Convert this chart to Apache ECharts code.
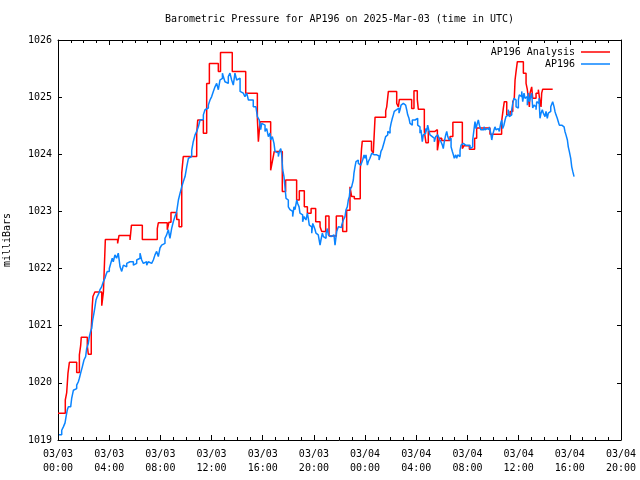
<!DOCTYPE html>
<html>
<head>
<meta charset="utf-8">
<script src="https://cdn.jsdelivr.net/npm/echarts@6/dist/echarts.min.js"></script>
<style>
html,body{margin:0;padding:0;background:#fff;}
#chart{width:640px;height:480px;}
</style>
</head>
<body>
<div id="chart"></div>
<script>
// Hours since 2025-03-03 00:00 UTC
var titleText = "Barometric Pressure for AP196 on 2025-Mar-03 (time in UTC)";
var yAxisName = "milliBars";
var seriesNames = ["AP196 Analysis", "AP196"];
var xTickHours = [0, 4, 8, 12, 16, 20, 24, 28, 32, 36, 40, 44];
var xTickLabels = ["03/03\n00:00","03/03\n04:00","03/03\n08:00","03/03\n12:00","03/03\n16:00","03/03\n20:00",
                   "03/04\n00:00","03/04\n04:00","03/04\n08:00","03/04\n12:00","03/04\n16:00","03/04\n20:00"];

var analysisHours = [0.00,0.57,0.68,0.78,0.89,1.46,1.67,1.77,1.82,2.29,2.37,2.60,2.68,2.73,2.88,3.42,3.55,3.70,4.66,4.77,
  5.63,5.74,6.59,7.76,7.84,8.54,8.67,8.83,9.28,9.46,9.67,9.79,10.84,10.92,11.36,11.62,11.83,12.53,12.70,13.62,
  14.67,15.58,15.66,15.79,16.62,16.75,16.90,17.53,17.79,18.65,18.86,19.25,19.49,19.78,20.14,20.48,20.61,20.92,21.18,21.75,
  22.25,22.56,22.82,22.95,23.16,23.62,23.72,23.78,24.50,24.64,24.78,25.61,25.69,25.82,26.47,26.60,26.68,27.64,27.82,28.08,
  28.16,28.63,28.76,28.94,29.46,29.50,29.65,29.80,29.99,30.64,30.86,31.60,31.73,32.15,32.56,32.72,33.76,34.67,34.80,34.88,
  35.07,35.33,35.54,35.66,35.72,35.80,35.90,36.37,36.58,36.68,36.76,36.84,36.89,37.02,37.10,37.36,37.54,37.67,37.75,37.80,
  37.88,38.66];
var analysisValues = [1019.47,1019.70,1019.83,1020.17,1020.36,1020.18,1020.49,1020.65,1020.80,1020.65,1020.50,1020.93,1021.35,1021.51,1021.59,1021.35,1021.59,1022.51,1022.44,1022.58,
  1022.50,1022.76,1022.51,1022.70,1022.80,1022.68,1022.81,1022.98,1022.86,1022.73,1023.67,1023.96,1024.37,1024.60,1024.37,1025.24,1025.59,1025.45,1025.78,1025.45,
  1025.07,1024.63,1024.22,1024.57,1023.72,1023.87,1024.05,1023.35,1023.55,1023.20,1023.36,1023.08,1022.97,1023.05,1022.82,1022.73,1022.65,1022.92,1022.57,1022.92,
  1022.65,1023.02,1023.43,1023.26,1023.22,1023.72,1024.09,1024.23,1024.07,1024.02,1024.65,1024.76,1024.83,1025.10,1024.89,1024.83,1024.96,1024.80,1025.11,1024.96,
  1024.79,1024.40,1024.20,1024.40,1024.37,1024.43,1024.07,1024.28,1024.24,1024.31,1024.56,1024.10,1024.15,1024.09,1024.28,1024.46,1024.35,1024.57,1024.80,1024.92,
  1024.69,1024.75,1024.92,1024.98,1025.30,1025.45,1025.62,1025.42,1025.24,1025.13,1024.98,1024.83,1025.07,1025.18,1024.98,1025.07,1025.13,1024.92,1024.83,1025.07,
  1025.14,1025.14];

var ap196Hours = [0.08,0.29,0.42,0.55,0.63,0.73,0.81,0.99,1.07,1.20,1.33,1.46,1.59,1.67,1.77,1.90,2.03,2.16,2.24,2.37,
  2.45,2.55,2.63,2.71,2.81,2.89,2.97,3.07,3.20,3.28,3.41,3.54,3.67,3.75,3.85,4.01,4.12,4.24,4.32,4.45,
  4.58,4.71,4.85,4.98,5.11,5.24,5.37,5.50,5.63,5.76,5.89,6.02,6.15,6.28,6.41,6.54,6.67,6.80,6.93,7.06,
  7.19,7.32,7.45,7.58,7.71,7.84,7.97,8.10,8.23,8.36,8.49,8.62,8.75,8.88,9.01,9.14,9.28,9.41,9.54,9.67,
  9.79,9.93,10.06,10.19,10.32,10.45,10.57,10.71,10.84,10.97,11.10,11.23,11.36,11.49,11.62,11.75,11.88,12.01,12.14,12.27,
  12.40,12.53,12.66,12.79,12.85,12.92,13.05,13.18,13.31,13.44,13.57,13.70,13.83,13.96,14.09,14.23,14.36,14.48,14.61,14.75,
  14.88,15.01,15.26,15.47,15.58,15.73,15.84,15.92,16.05,16.18,16.31,16.44,16.57,16.62,16.75,16.88,16.96,17.09,17.22,17.30,
  17.41,17.48,17.56,17.66,17.74,17.82,17.92,18.00,18.13,18.26,18.34,18.44,18.52,18.66,18.73,18.84,18.91,19.05,19.12,19.23,
  19.30,19.38,19.49,19.56,19.64,19.75,19.83,19.91,20.01,20.09,20.16,20.27,20.34,20.48,20.55,20.66,20.74,20.87,20.95,21.05,
  21.13,21.26,21.34,21.47,21.57,21.65,21.73,21.78,21.91,22.04,22.17,22.30,22.43,22.51,22.61,22.69,22.77,22.82,22.95,23.08,
  23.13,23.21,23.29,23.34,23.47,23.55,23.66,23.73,23.81,23.92,23.99,24.07,24.18,24.25,24.38,24.46,24.52,24.59,24.64,24.72,
  24.83,24.91,24.99,25.09,25.17,25.24,25.35,25.43,25.50,25.61,25.69,25.77,25.87,25.95,26.03,26.13,26.21,26.28,26.39,26.47,
  26.55,26.65,26.73,26.81,26.91,26.99,27.07,27.17,27.25,27.33,27.43,27.51,27.59,27.69,27.77,27.90,28.03,28.11,28.21,28.29,
  28.37,28.47,28.55,28.63,28.74,28.82,28.89,29.00,29.07,29.15,29.25,29.33,29.41,29.52,29.60,29.68,29.78,29.86,29.93,30.04,
  30.11,30.19,30.30,30.38,30.46,30.56,30.64,30.72,30.82,30.90,30.97,31.08,31.16,31.24,31.34,31.42,31.50,31.60,31.68,31.75,
  31.86,31.94,32.02,32.12,32.20,32.33,32.41,32.51,32.59,32.67,32.77,32.85,32.93,33.04,33.11,33.19,33.29,33.37,33.45,33.55,
  33.63,33.71,33.82,33.90,33.97,34.08,34.15,34.23,34.34,34.41,34.49,34.60,34.68,34.75,34.85,34.94,35.01,35.12,35.19,35.27,
  35.38,35.46,35.54,35.64,35.72,35.80,35.90,35.98,36.05,36.16,36.24,36.32,36.42,36.50,36.58,36.68,36.76,36.84,36.94,37.02,
  37.10,37.20,37.28,37.36,37.41,37.49,37.59,37.67,37.75,37.85,37.93,38.06,38.14,38.24,38.32,38.40,38.51,38.58,38.66,38.77,
  38.84,38.92,39.02,39.10,39.18,39.29,39.37,39.44,39.55,39.62,39.70,39.81,39.88,39.96,40.07,40.15,40.23,40.33];
var ap196Values = [1019.09,1019.17,1019.23,1019.30,1019.41,1019.53,1019.58,1019.59,1019.73,1019.87,1019.90,1019.96,1020.02,1020.08,1020.17,1020.28,1020.40,1020.46,1020.60,1020.69,
  1020.81,1020.90,1020.95,1021.10,1021.22,1021.33,1021.45,1021.51,1021.57,1021.63,1021.68,1021.77,1021.83,1021.89,1021.95,1022.00,1022.09,1022.18,1022.12,1022.24,
  1022.18,1022.27,1022.03,1021.95,1022.06,1022.03,1022.09,1022.12,1022.09,1022.12,1022.06,1022.09,1022.15,1022.18,1022.27,1022.15,1022.09,1022.12,1022.06,1022.12,
  1022.09,1022.06,1022.15,1022.24,1022.30,1022.21,1022.36,1022.41,1022.44,1022.53,1022.59,1022.68,1022.53,1022.70,1022.82,1022.91,1023.00,1023.20,1023.32,1023.43,
  1023.52,1023.61,1023.78,1023.93,1023.96,1024.07,1024.22,1024.34,1024.40,1024.48,1024.60,1024.61,1024.69,1024.78,1024.81,1024.86,1024.95,1025.01,1025.10,1025.18,
  1025.24,1025.13,1025.30,1025.33,1025.42,1025.36,1025.27,1025.24,1025.36,1025.42,1025.30,1025.21,1025.42,1025.30,1025.33,1025.10,1025.07,1025.10,1025.01,1025.07,
  1024.95,1024.95,1024.83,1024.81,1024.66,1024.60,1024.43,1024.54,1024.51,1024.40,1024.45,1024.31,1024.37,1024.25,1024.31,1024.19,1024.05,1024.02,1023.96,1024.05,
  1024.10,1023.99,1023.73,1023.61,1023.43,1023.23,1023.20,1023.08,1023.03,1023.00,1022.91,1023.08,1023.03,1023.20,1023.14,1023.08,1022.97,1022.94,1022.82,1022.91,
  1022.94,1022.85,1022.97,1022.88,1022.76,1022.73,1022.62,1022.79,1022.73,1022.68,1022.62,1022.59,1022.62,1022.41,1022.50,1022.62,1022.56,1022.53,1022.62,1022.70,
  1022.59,1022.56,1022.53,1022.59,1022.56,1022.41,1022.56,1022.65,1022.73,1022.72,1022.76,1022.85,1022.91,1023.03,1023.08,1023.20,1023.26,1023.38,1023.43,1023.55,
  1023.67,1023.78,1023.87,1023.90,1023.84,1023.81,1023.84,1023.81,1023.90,1023.99,1023.93,1023.99,1023.81,1023.87,1023.93,1023.96,1024.02,1024.05,1023.99,1023.96,
  1023.99,1024.02,1023.97,1023.90,1023.96,1024.05,1024.10,1024.13,1024.22,1024.31,1024.34,1024.40,1024.37,1024.45,1024.54,1024.63,1024.69,1024.75,1024.78,1024.75,
  1024.81,1024.72,1024.78,1024.86,1024.89,1024.89,1024.86,1024.89,1024.78,1024.69,1024.63,1024.54,1024.51,1024.60,1024.60,1024.60,1024.63,1024.51,1024.48,1024.37,
  1024.43,1024.22,1024.34,1024.37,1024.45,1024.40,1024.51,1024.40,1024.34,1024.31,1024.34,1024.28,1024.22,1024.31,1024.34,1024.31,1024.28,1024.25,1024.22,1024.16,
  1024.10,1024.22,1024.34,1024.40,1024.31,1024.25,1024.28,1024.13,1024.05,1023.99,1023.93,1023.99,1023.93,1023.99,1023.96,1024.07,1024.16,1024.19,1024.22,1024.16,
  1024.13,1024.16,1024.13,1024.16,1024.10,1024.13,1024.25,1024.43,1024.57,1024.45,1024.54,1024.60,1024.51,1024.43,1024.45,1024.43,1024.48,1024.43,1024.45,1024.43,
  1024.43,1024.48,1024.37,1024.25,1024.34,1024.43,1024.48,1024.43,1024.45,1024.48,1024.40,1024.54,1024.60,1024.45,1024.51,1024.60,1024.66,1024.69,1024.78,1024.66,
  1024.69,1024.78,1024.89,1024.98,1024.95,1024.83,1024.81,1024.95,1025.04,1025.01,1025.10,1024.92,1025.07,1024.98,1025.01,1024.86,1025.07,1024.92,1025.01,1025.07,
  1024.81,1024.86,1024.83,1024.78,1024.92,1024.89,1024.98,1024.63,1024.72,1024.78,1024.72,1024.66,1024.75,1024.63,1024.72,1024.75,1024.83,1024.86,1024.92,1024.83,
  1024.75,1024.69,1024.63,1024.57,1024.51,1024.51,1024.50,1024.48,1024.45,1024.40,1024.34,1024.25,1024.13,1024.05,1023.93,1023.78,1023.70,1023.61];

function zip(a, b) { var out = []; for (var i = 0; i < a.length; i++) out.push([a[i], b[i]]); return out; }

var FONT = "'DejaVu Sans Mono', 'Liberation Mono', monospace";
var chart = echarts.init(document.getElementById('chart'), null, {renderer: 'canvas'});

function xLabel(v) {
  var i = xTickHours.indexOf(v);
  return i >= 0 ? xTickLabels[i] : '';
}
function yLabel(v) { return String(v); }
var axisCommon = {
  axisLine: {show: true, onZero: false, lineStyle: {color: '#000', width: 1}},
  splitLine: {show: false}
};

chart.setOption({
  animation: false,
  backgroundColor: '#fff',
  graphic: [{
    type: 'text', x: 339.5, y: 19,
    style: {text: titleText, textAlign: 'center', textVerticalAlign: 'middle', font: '10px ' + FONT, fill: '#000'}
  }],
  grid: {left: 58, right: 19, top: 40, bottom: 40, containLabel: false, outerBoundsMode: 'none'},
  legend: {
    orient: 'vertical', right: 25, top: 41, align: 'right',
    icon: 'rect', itemWidth: 29, itemHeight: 1.5, itemGap: 0,
    textStyle: {fontFamily: FONT, fontSize: 10, color: '#000', lineHeight: 12, padding: [0, 1, 0, 0]},
    data: seriesNames
  },
  xAxis: [
    Object.assign({
      type: 'value', min: 0, max: 44, interval: 4, position: 'bottom',
      axisTick: {show: true, inside: true, length: 5, lineStyle: {color: '#000'}},
      minorTick: {show: true, splitNumber: 4, length: 3, lineStyle: {color: '#000'}},
      axisLabel: {show: true, formatter: xLabel, fontFamily: FONT, fontSize: 10, color: '#000', lineHeight: 14, margin: 7}
    }, axisCommon),
    Object.assign({
      type: 'value', min: 0, max: 44, interval: 4, position: 'top',
      axisTick: {show: true, inside: true, length: 5, lineStyle: {color: '#000'}},
      minorTick: {show: true, splitNumber: 4, length: 3, lineStyle: {color: '#000'}},
      axisLabel: {show: false}
    }, axisCommon)
  ],
  yAxis: [
    Object.assign({
      type: 'value', min: 1019, max: 1026, interval: 1, position: 'left',
      name: yAxisName, nameLocation: 'middle', nameRotate: 90, nameGap: 46,
      nameTextStyle: {fontFamily: FONT, fontSize: 10, color: '#000'},
      axisTick: {show: true, inside: true, length: 4, lineStyle: {color: '#000'}},
      axisLabel: {show: true, formatter: yLabel, fontFamily: FONT, fontSize: 10, color: '#000', margin: 6}
    }, axisCommon),
    Object.assign({
      type: 'value', min: 1019, max: 1026, interval: 1, position: 'right',
      axisTick: {show: true, inside: true, length: 4, lineStyle: {color: '#000'}},
      axisLabel: {show: false}
    }, axisCommon)
  ],
  series: [
    {
      name: seriesNames[0], type: 'line', step: 'end', showSymbol: false, symbol: 'none',
      xAxisIndex: 0, yAxisIndex: 0,
      lineStyle: {color: '#ff0000', width: 1.5}, itemStyle: {color: '#ff0000'},
      data: zip(analysisHours, analysisValues)
    },
    {
      name: seriesNames[1], type: 'line', step: 'end', showSymbol: false, symbol: 'none',
      xAxisIndex: 0, yAxisIndex: 0,
      lineStyle: {color: '#0a84ff', width: 1.5}, itemStyle: {color: '#0a84ff'},
      data: zip(ap196Hours, ap196Values)
    }
  ]
});
</script>
</body>
</html>
